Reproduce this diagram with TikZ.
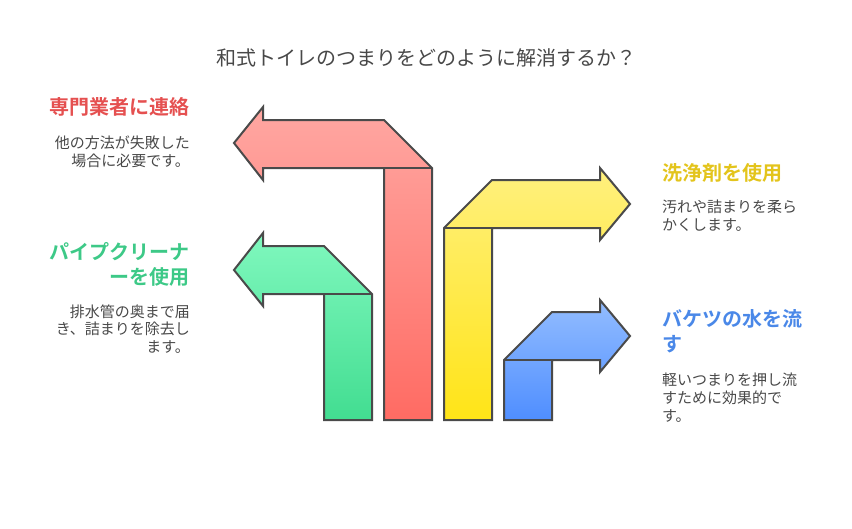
\documentclass[tikz,border=0pt]{standalone}
\usepackage{fontspec}
\setmainfont{Noto Sans CJK JP}[BoldFont={Noto Sans CJK JP Bold}]
\definecolor{redtop}{HTML}{FFA7A2}
\definecolor{redbot}{HTML}{FF6B63}
\definecolor{greentop}{HTML}{80F8BE}
\definecolor{greenbot}{HTML}{42DD91}
\definecolor{yellowtop}{HTML}{FFF07E}
\definecolor{yellowbot}{HTML}{FFE417}
\definecolor{bluetop}{HTML}{93BDFF}
\definecolor{bluebot}{HTML}{4F8EFF}
\definecolor{outline}{HTML}{4A4A4A}
\definecolor{textgray}{HTML}{484848}
\definecolor{redhead}{HTML}{E55050}
\definecolor{greenhead}{HTML}{3DC987}
\definecolor{yellowhead}{HTML}{E3C41C}
\definecolor{bluehead}{HTML}{4A88E8}
\begin{document}
\begin{tikzpicture}[x=1pt,y=-1pt,
  arrowline/.style={draw=outline,line width=2pt},
  headline/.style={inner sep=0pt,font=\fontsize{20}{25}\selectfont\bfseries},
  bodytext/.style={inner sep=0pt,text=textgray,font=\fontsize{15}{17.7}\selectfont}]
\useasboundingbox(0,0) rectangle (852,528);
% Titel
\node[inner sep=0pt,text=textgray,font=\fontsize{20}{24}\selectfont]at(426,58)(title){和式トイレのつまりをどのように解消するか？};

% Pfeil rot
\draw[arrowline,top color=redtop,bottom color=redbot](234,143)--(263,107)--(263,120)--(384,120)--(432,168)--(432,420)--(384,420)--(384,168)--(263,168)--(263,180)--cycle;
\draw[arrowline](384,168)--(432,168);
% Pfeil gruen
\draw[arrowline,top color=greentop,bottom color=greenbot](234,270)--(263,233)--(263,246)--(324,246)--(372,294)--(372,420)--(324,420)--(324,294)--(263,294)--(263,306)--cycle;
\draw[arrowline](324,294)--(372,294);
% Pfeil gelb
\draw[arrowline,top color=yellowtop,bottom color=yellowbot](444,420)--(444,228)--(492,180)--(600,180)--(600,168)--(630,204)--(600,240)--(600,228)--(492,228)--(492,420)--cycle;
\draw[arrowline](444,228)--(492,228);
% Pfeil blau
\draw[arrowline,top color=bluetop,bottom color=bluebot](504,420)--(504,360)--(552,312)--(600,312)--(600,300)--(630,336)--(600,372)--(600,360)--(552,360)--(552,420)--cycle;
\draw[arrowline](504,360)--(552,360);

% links
\node[headline,text=redhead,anchor=east]at(190,107)(pro_head){専門業者に連絡};
\node[bodytext,anchor=east,align=right]at(190,152)(pro_text){他の方法が失敗した\\場合に必要です。};
\node[headline,text=greenhead,anchor=east,align=right]at(190,264)(pipe_head){パイプクリーナ\\ーを使用};
\node[bodytext,anchor=east,align=right]at(190,329)(pipe_text){排水管の奥まで届\\き、詰まりを除去し\\ます。};
% rechts
\node[headline,text=yellowhead,anchor=west]at(662,173)(clean_head){洗浄剤を使用};
\node[bodytext,anchor=west,align=left]at(662,215.5)(clean_text){汚れや詰まりを柔ら\\かくします。};
\node[headline,text=bluehead,anchor=west,align=left]at(662,331)(bucket_head){バケツの水を流\\す};
\node[bodytext,anchor=west,align=left]at(662,397.5)(bucket_text){軽いつまりを押し流\\すために効果的で\\す。};
\end{tikzpicture}
\end{document}
